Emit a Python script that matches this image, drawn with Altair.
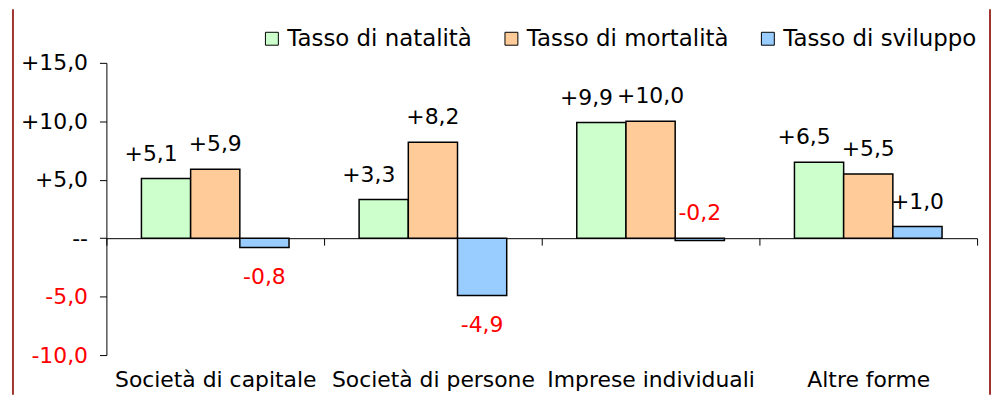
import altair as alt
import pandas as pd

categories = ["Società di capitale", "Società di persone", "Imprese individuali", "Altre forme"]
series = ["Tasso di natalità", "Tasso di mortalità", "Tasso di sviluppo"]
natalita = [5.1, 3.3, 9.9, 6.5]
mortalita = [5.9, 8.2, 10.0, 5.5]
sviluppo = [-0.8, -4.9, -0.2, 1.0]
colors = ["#CCFFCC", "#FFCC99", "#99CCFF"]
y_ticks = [-10, -5, 0, 5, 10, 15]
y_domain = [-10, 15]

rows = []
for i, c in enumerate(categories):
    for s, vals in zip(series, [natalita, mortalita, sviluppo]):
        rows.append({"cat": c, "serie": s, "val": vals[i]})
df = pd.DataFrame(rows)

FONT = "DejaVu Sans"
W, H = 876, 294
zero_px = H * y_domain[1] / (y_domain[1] - y_domain[0])
x_offset_axis = -(H - zero_px)

x = alt.X(
    "cat:N", sort=categories, title=None,
    scale=alt.Scale(paddingInner=0, paddingOuter=0),
    axis=alt.Axis(orient="bottom", offset=x_offset_axis, tickBand="extent", tickSize=7,
                  domainColor="black", tickColor="black", domainWidth=1, tickWidth=1,
                  labelPadding=142, labelFontSize=22, labelFont=FONT, labelColor="black",
                  labelAngle=0, labelBaseline="alphabetic", labelLimit=0, grid=False),
)
xo = alt.XOffset("serie:N", sort=series, scale=alt.Scale(paddingInner=0, paddingOuter=0.712))
y = alt.Y(
    "val:Q", title=None,
    scale=alt.Scale(domain=y_domain, nice=False, zero=False),
    axis=alt.Axis(values=y_ticks, grid=False, tickSize=7, tickColor="black", domainColor="black",
                  labelPadding=12, labelFontSize=22, labelFont=FONT, labelLimit=0,
                  labelExpr="datum.value == 0 ? '--' : (datum.value > 0 ? '+' : '-') + replace(format(abs(datum.value), '.1f'), '.', ',')",
                  labelColor={"condition": {"test": "datum.value < 0", "value": "#FF0000"}, "value": "black"}),
)

base = alt.Chart(df)

bars = base.mark_bar(stroke="black", strokeWidth=1.5).encode(
    x=x, xOffset=xo, y=y,
    color=alt.Color("serie:N", sort=series,
                    scale=alt.Scale(domain=series, range=colors),
                    legend=alt.Legend(orient="none", legendX=155, legendY=-36, direction="horizontal",
                                      title=None, symbolType="square", symbolSize=169,
                                      symbolStrokeColor="black", symbolStrokeWidth=1,
                                      labelFontSize=23, labelFont=FONT, labelColor="black",
                                      labelLimit=0, columnPadding=28, labelOffset=4)),
)

lbl_expr = "(datum.val >= 0 ? '+' : '-') + replace(format(abs(datum.val), '.1f'), '.', ',')"
labelled = base.transform_calculate(lbl=lbl_expr, ly="max(datum.val, 0)")

txt_common = dict(fontSize=22, font=FONT)
above_green = labelled.transform_filter(
    f"datum.val > -0.5 && datum.serie == '{series[0]}'"
).mark_text(baseline="alphabetic", dy=-18, dx=-15, **txt_common).encode(
    x=x, xOffset=xo, y=alt.Y("ly:Q"), text="lbl:N",
    color=alt.condition("datum.val < 0", alt.value("#FF0000"), alt.value("black")),
)
above_other = labelled.transform_filter(
    f"datum.val > -0.5 && datum.serie != '{series[0]}'"
).mark_text(baseline="alphabetic", dy=-18, **txt_common).encode(
    x=x, xOffset=xo, y=alt.Y("ly:Q"), text="lbl:N",
    color=alt.condition("datum.val < 0", alt.value("#FF0000"), alt.value("black")),
)
below = labelled.transform_filter("datum.val <= -0.5").mark_text(
    baseline="top", dy=20, color="#FF0000", **txt_common
).encode(x=x, xOffset=xo, y=y, text="lbl:N")

frame_data = alt.Data(values=[{}])
frame_left = alt.Chart(frame_data).mark_rule(color="#A0342F", strokeWidth=2).encode(
    x=alt.value(-94), y=alt.value(-54), y2=alt.value(H + 40))
frame_right = alt.Chart(frame_data).mark_rule(color="#A0342F", strokeWidth=2).encode(
    x=alt.value(889), y=alt.value(-54), y2=alt.value(H + 40))

chart = alt.layer(bars, above_green, above_other, below, frame_left, frame_right).properties(
    width=W, height=H,
    autosize=alt.AutoSizeParams(type="none"),
    padding={"left": 99, "top": 54, "right": 14, "bottom": 40},
    background="white",
).configure_view(stroke=None)

chart.save("out.html", embed_options={"renderer": "svg", "actions": False})
